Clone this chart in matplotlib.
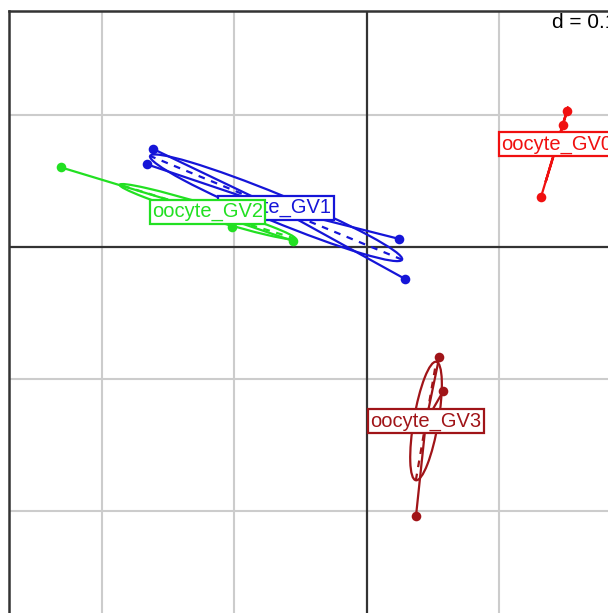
import numpy as np
import matplotlib
matplotlib.use("Agg")
import matplotlib.pyplot as plt
from matplotlib.patches import Ellipse

plt.rcParams['font.family'] = ['Liberation Sans', 'DejaVu Sans']

# Class scores on the first two axes
classes = ["oocyte_GV0", "oocyte_GV1", "oocyte_GV2", "oocyte_GV3"]
colors = ["#f01010", "#1515d8", "#22e022", "#a01418"]

gv0_x = [0.1517, 0.1489, 0.1322]
gv0_y = [0.1030, 0.0924, 0.0379]
gv1_x = [-0.1615, -0.1665, 0.0248, 0.0292]
gv1_y = [0.0742, 0.0627, 0.0061, -0.0242]
gv2_x = [-0.2317, -0.1021, -0.0555, -0.0926]
gv2_y = [0.0604, 0.0154, 0.0045, 0.0267]
gv3_x = [0.0552, 0.0582, 0.0375, 0.0295]
gv3_y = [-0.0831, -0.1091, -0.2038, -0.1313]

xs = [gv0_x, gv1_x, gv2_x, gv3_x]
ys = [gv0_y, gv1_y, gv2_y, gv3_y]

grid_step = 0.1
cellipse = 1.0

W, H = 608, 613
fig = plt.figure(figsize=(W / 100, H / 100), dpi=100)

# plot frame in pixels (extends past the right/bottom of the canvas)
scale = 1320.0          # pixels per unit
ox, oy = 366.5, 247.0   # pixel position of the origin
left_px, top_px, right_px, bottom_px = 9, 10.5, 612, 620
ax = fig.add_axes([left_px / W, (H - bottom_px) / H,
                   (right_px - left_px) / W, (bottom_px - top_px) / H])
ax.set_xlim((left_px - ox) / scale, (right_px - ox) / scale)
ax.set_ylim((oy - bottom_px) / scale, (oy - top_px) / scale)
ax.set_xticks([])
ax.set_yticks([])
for s in ax.spines.values():
    s.set_color("#333333")
    s.set_linewidth(1.8)
    s.set_zorder(7)

# background grid
x0, x1 = ax.get_xlim()
y0, y1 = ax.get_ylim()
for gx in np.arange(-3, 3) * grid_step:
    if x0 < gx < x1 and abs(gx) > 1e-9:
        ax.axvline(gx, color="#cccccc", lw=1.5, zorder=0)
for gy in np.arange(-3, 3) * grid_step:
    if y0 < gy < y1 and abs(gy) > 1e-9:
        ax.axhline(gy, color="#cccccc", lw=1.5, zorder=0)
ax.axvline(0, color="#333333", lw=1.6, zorder=1)
ax.axhline(0, color="#333333", lw=1.6, zorder=1)

# stars, ellipses and points
centers = []
for x, y, col in zip(xs, ys, colors):
    x = np.asarray(x)
    y = np.asarray(y)
    cx, cy = x.mean(), y.mean()
    centers.append((cx, cy))
    for xi, yi in zip(x, y):
        ax.plot([cx, xi], [cy, yi], color=col, lw=1.6, zorder=2)
    cov = np.cov(np.vstack([x, y]), bias=True)
    vals, vecs = np.linalg.eigh(cov)
    order = vals.argsort()[::-1]
    vals, vecs = vals[order], vecs[:, order]
    a = cellipse * np.sqrt(vals[0])
    b = cellipse * np.sqrt(vals[1])
    ang = np.degrees(np.arctan2(vecs[1, 0], vecs[0, 0]))
    ax.add_patch(Ellipse((cx, cy), 2 * a, 2 * b, angle=ang, fill=False,
                         ec=col, lw=1.6, zorder=3))
    for k, r in ((0, a), (1, b)):
        v = vecs[:, k]
        ax.plot([cx - r * v[0], cx + r * v[0]], [cy - r * v[1], cy + r * v[1]],
                color=col, lw=1.6, ls=(0, (3, 3)), zorder=3)
    ax.scatter(x, y, s=48, color=col, zorder=4, linewidths=0)

# class labels
for (cx, cy), name, col in zip(centers, classes, colors):
    ax.text(cx, cy, name, color=col, fontsize=14.5, ha="center", va="center",
            zorder=5,
            bbox=dict(boxstyle="square,pad=0.12", fc="white", ec=col, lw=1.6))

# scale label
ax.text((552 - ox) / scale, (oy - 22) / scale, "d = 0.1", fontsize=15,
        ha="left", va="center", zorder=6)

fig.savefig("out.png", dpi=100)
